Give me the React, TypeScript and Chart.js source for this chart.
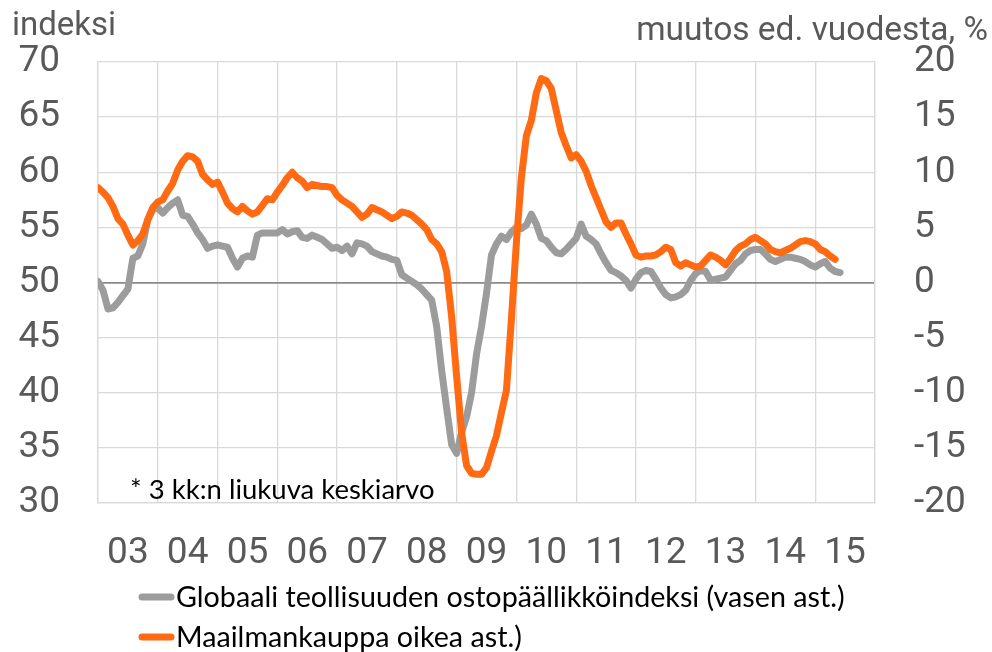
import React, { useEffect, useRef } from 'react';
import { Chart, registerables } from 'chart.js';

Chart.register(...registerables);

const startYear = 2003;
const endYear = 2016;
const xTickLabels = ['03', '04', '05', '06', '07', '08', '09', '10', '11', '12', '13', '14', '15'];

const leftTitle = 'indeksi';
const rightTitle = 'muutos ed. vuodesta, %';
const footnote = '* 3 kk:n liukuva keskiarvo';
const legendLabels = [
  'Globaali teollisuuden ostopäällikköindeksi (vasen ast.)',
  'Maailmankauppa oikea ast.)',
];
const seriesColors = ['#9c9c9c', '#ff6a13'];

// Global manufacturing PMI, monthly from Jan 2003 (left axis)
const pmi = [
  50.1, 49.3, 47.6, 47.7, 48.2, 48.8, 49.4, 52.2, 52.4, 53.5,
  55.7, 56.6, 56.8, 56.3, 56.8, 57.2, 57.5, 56.1, 56.0, 55.3,
  54.5, 53.9, 53.1, 53.3, 53.4, 53.3, 53.2, 52.2, 51.4, 52.2,
  52.4, 52.3, 54.3, 54.5, 54.5, 54.5, 54.5, 54.8, 54.4, 54.6,
  54.7, 54.1, 54.0, 54.3, 54.1, 53.9, 53.5, 53.1, 53.2, 52.9,
  53.3, 52.6, 53.6, 53.5, 53.3, 52.8, 52.6, 52.4, 52.3, 52.1,
  52.0, 50.7, 50.4, 50.1, 49.8, 49.4, 48.9, 48.4, 46.0, 42.0,
  38.6, 35.3, 34.5, 36.4, 37.8, 40.0, 43.5, 46.0, 49.0, 52.5,
  53.5, 54.2, 53.9, 54.6, 55.0, 54.9, 55.2, 56.2, 55.3, 54.0,
  53.8, 53.2, 52.7, 52.6, 53.0, 53.5, 54.0, 55.3, 54.2, 53.9,
  53.5, 52.6, 51.8, 51.1, 50.9, 50.6, 50.2, 49.5, 50.3, 50.9,
  51.1, 51.0, 50.3, 49.5, 48.9, 48.6, 48.7, 48.9, 49.3, 50.2,
  50.8, 51.1, 51.0, 50.2, 50.3, 50.4, 50.5, 51.1, 51.7, 52.0,
  52.6, 52.9, 53.0, 53.0, 52.6, 52.1, 51.9, 52.1, 52.3, 52.3,
  52.2, 52.1, 51.9, 51.6, 51.4, 51.7, 51.9, 51.3, 51.0, 50.9,
];

// World trade, % change y/y, monthly from Jan 2003 (right axis)
const trade = [
  8.6, 8.2, 7.7, 6.9, 5.8, 5.3, 4.3, 3.4, 3.8, 4.4,
  5.7, 6.8, 7.3, 7.5, 8.3, 9.0, 10.2, 11.0, 11.5, 11.4,
  11.0, 9.8, 9.3, 8.9, 9.1, 8.2, 7.2, 6.7, 6.4, 6.9,
  6.5, 6.2, 6.4, 7.0, 7.6, 7.5, 8.2, 8.8, 9.5, 10.0,
  9.5, 9.2, 8.6, 8.9, 8.8, 8.7, 8.7, 8.6, 7.9, 7.5,
  7.2, 6.9, 6.4, 5.9, 6.2, 6.8, 6.6, 6.4, 6.1, 5.8,
  6.0, 6.4, 6.3, 6.1, 5.7, 5.3, 4.8, 3.9, 3.5, 2.8,
  1.0, -3.1, -8.5, -13.6, -16.6, -17.3, -17.4, -17.4, -16.8, -15.3,
  -13.9, -11.8, -9.8, -3.3, 3.6, 9.5, 13.3, 14.7, 17.2, 18.5,
  18.3, 17.6, 15.6, 13.6, 12.4, 11.3, 11.6, 11.0, 10.1, 8.8,
  7.7, 6.6, 5.5, 5.0, 5.4, 5.4, 4.4, 3.5, 2.5, 2.3,
  2.4, 2.4, 2.5, 2.8, 3.2, 3.0, 1.8, 1.5, 1.8, 1.6,
  1.4, 1.5, 2.0, 2.5, 2.3, 2.0, 1.6, 2.2, 2.9, 3.3,
  3.5, 3.9, 4.1, 3.8, 3.5, 3.0, 2.8, 2.7, 2.9, 3.1,
  3.4, 3.7, 3.8, 3.7, 3.5, 3.0, 2.8, 2.4, 2.1,
];

const toPoints = (arr: number[]) => arr.map((v, i) => ({ x: startYear + i / 12, y: v }));

const tickFont = { family: 'Roboto', size: 37 };
const tickColor = '#595959';
const gridColor = '#d9d9d9';

const textPlugin = {
  id: 'extraTexts',
  afterDraw(chart: any) {
    const ctx = chart.ctx as CanvasRenderingContext2D;
    ctx.save();
    ctx.textBaseline = 'alphabetic';
    ctx.fillStyle = tickColor;
    ctx.font = '33px Roboto';
    ctx.textAlign = 'left';
    ctx.fillText(leftTitle, 12, 35);
    ctx.textAlign = 'right';
    ctx.font = '33.5px Roboto';
    ctx.fillText(rightTitle, 988, 40);

    ctx.textAlign = 'left';
    ctx.fillStyle = '#000000';
    ctx.font = '27.5px Lato';
    ctx.fillText(footnote, 130, 499);

    ctx.font = '28.7px Lato';
    const rows = [597, 637];
    legendLabels.forEach((label, i) => {
      const y = rows[i];
      ctx.strokeStyle = seriesColors[i];
      ctx.lineWidth = 7;
      ctx.lineCap = 'round';
      ctx.beginPath();
      ctx.moveTo(142, y);
      ctx.lineTo(171, y);
      ctx.stroke();
      ctx.fillStyle = '#000000';
      ctx.fillText(label, 176, y + 10);
    });
    ctx.restore();
  },
};

export default function App() {
  const canvasRef = useRef<HTMLCanvasElement | null>(null);

  useEffect(() => {
    const canvas = canvasRef.current;
    if (!canvas) return;
    const chart = new Chart(canvas, {
      type: 'line',
      data: {
        datasets: [
          {
            label: legendLabels[0],
            data: toPoints(pmi),
            borderColor: seriesColors[0],
            backgroundColor: seriesColors[0],
            borderWidth: 7,
            pointRadius: 0,
            tension: 0,
            borderJoinStyle: 'round',
            borderCapStyle: 'round',
            yAxisID: 'y',
            order: 1,
          },
          {
            label: legendLabels[1],
            data: toPoints(trade),
            borderColor: seriesColors[1],
            backgroundColor: seriesColors[1],
            borderWidth: 7,
            pointRadius: 0,
            tension: 0,
            borderJoinStyle: 'round',
            borderCapStyle: 'round',
            yAxisID: 'y2',
            order: 0,
          },
        ],
      },
      options: {
        animation: false,
        responsive: false,
        maintainAspectRatio: false,
        layout: { padding: { top: 62, left: 0, right: 0, bottom: 0 } },
        plugins: {
          legend: { display: false },
          tooltip: { enabled: false },
          title: { display: false },
        },
        scales: {
          x: {
            type: 'linear',
            position: 'bottom',
            min: startYear,
            max: endYear,
            afterBuildTicks: (axis: any) => {
              axis.ticks = xTickLabels.map((_, i) => ({ value: startYear + i + 0.5 }));
            },
            afterFit: (axis: any) => {
              axis.height = 149;
            },
            grid: { offset: true, color: gridColor, lineWidth: 1.3, drawTicks: false },
            border: { color: gridColor, width: 1.3 },
            ticks: {
              autoSkip: false,
              maxRotation: 0,
              minRotation: 0,
              padding: 29,
              color: tickColor,
              font: tickFont,
              callback: (_v: any, i: number) => xTickLabels[i],
            },
          },
          y: {
            type: 'linear',
            position: 'left',
            min: 30,
            max: 70,
            afterFit: (axis: any) => {
              axis.width = 98;
            },
            grid: {
              color: (c: any) => (c.tick && c.tick.value === 50 ? '#8a8a8a' : gridColor),
              lineWidth: (c: any) => (c.tick && c.tick.value === 50 ? 1.8 : 1.3),
              drawTicks: false,
            },
            border: { color: gridColor, width: 1.3 },
            ticks: { stepSize: 5, padding: 38, color: tickColor, font: tickFont },
          },
          y2: {
            type: 'linear',
            position: 'right',
            min: -20,
            max: 20,
            afterFit: (axis: any) => {
              axis.width = 117;
            },
            grid: { display: false, drawTicks: false },
            border: { color: gridColor, width: 1.3 },
            ticks: { stepSize: 5, padding: 39, color: tickColor, font: tickFont },
          },
        },
      },
      plugins: [textPlugin],
    } as any);
    return () => chart.destroy();
  }, []);

  return (
    <div style={{ position: 'absolute', left: 0, top: 0, width: 992, height: 652, background: '#ffffff' }}>
      <canvas ref={canvasRef} width={992} height={652} style={{ display: 'block' }} />
    </div>
  );
}
